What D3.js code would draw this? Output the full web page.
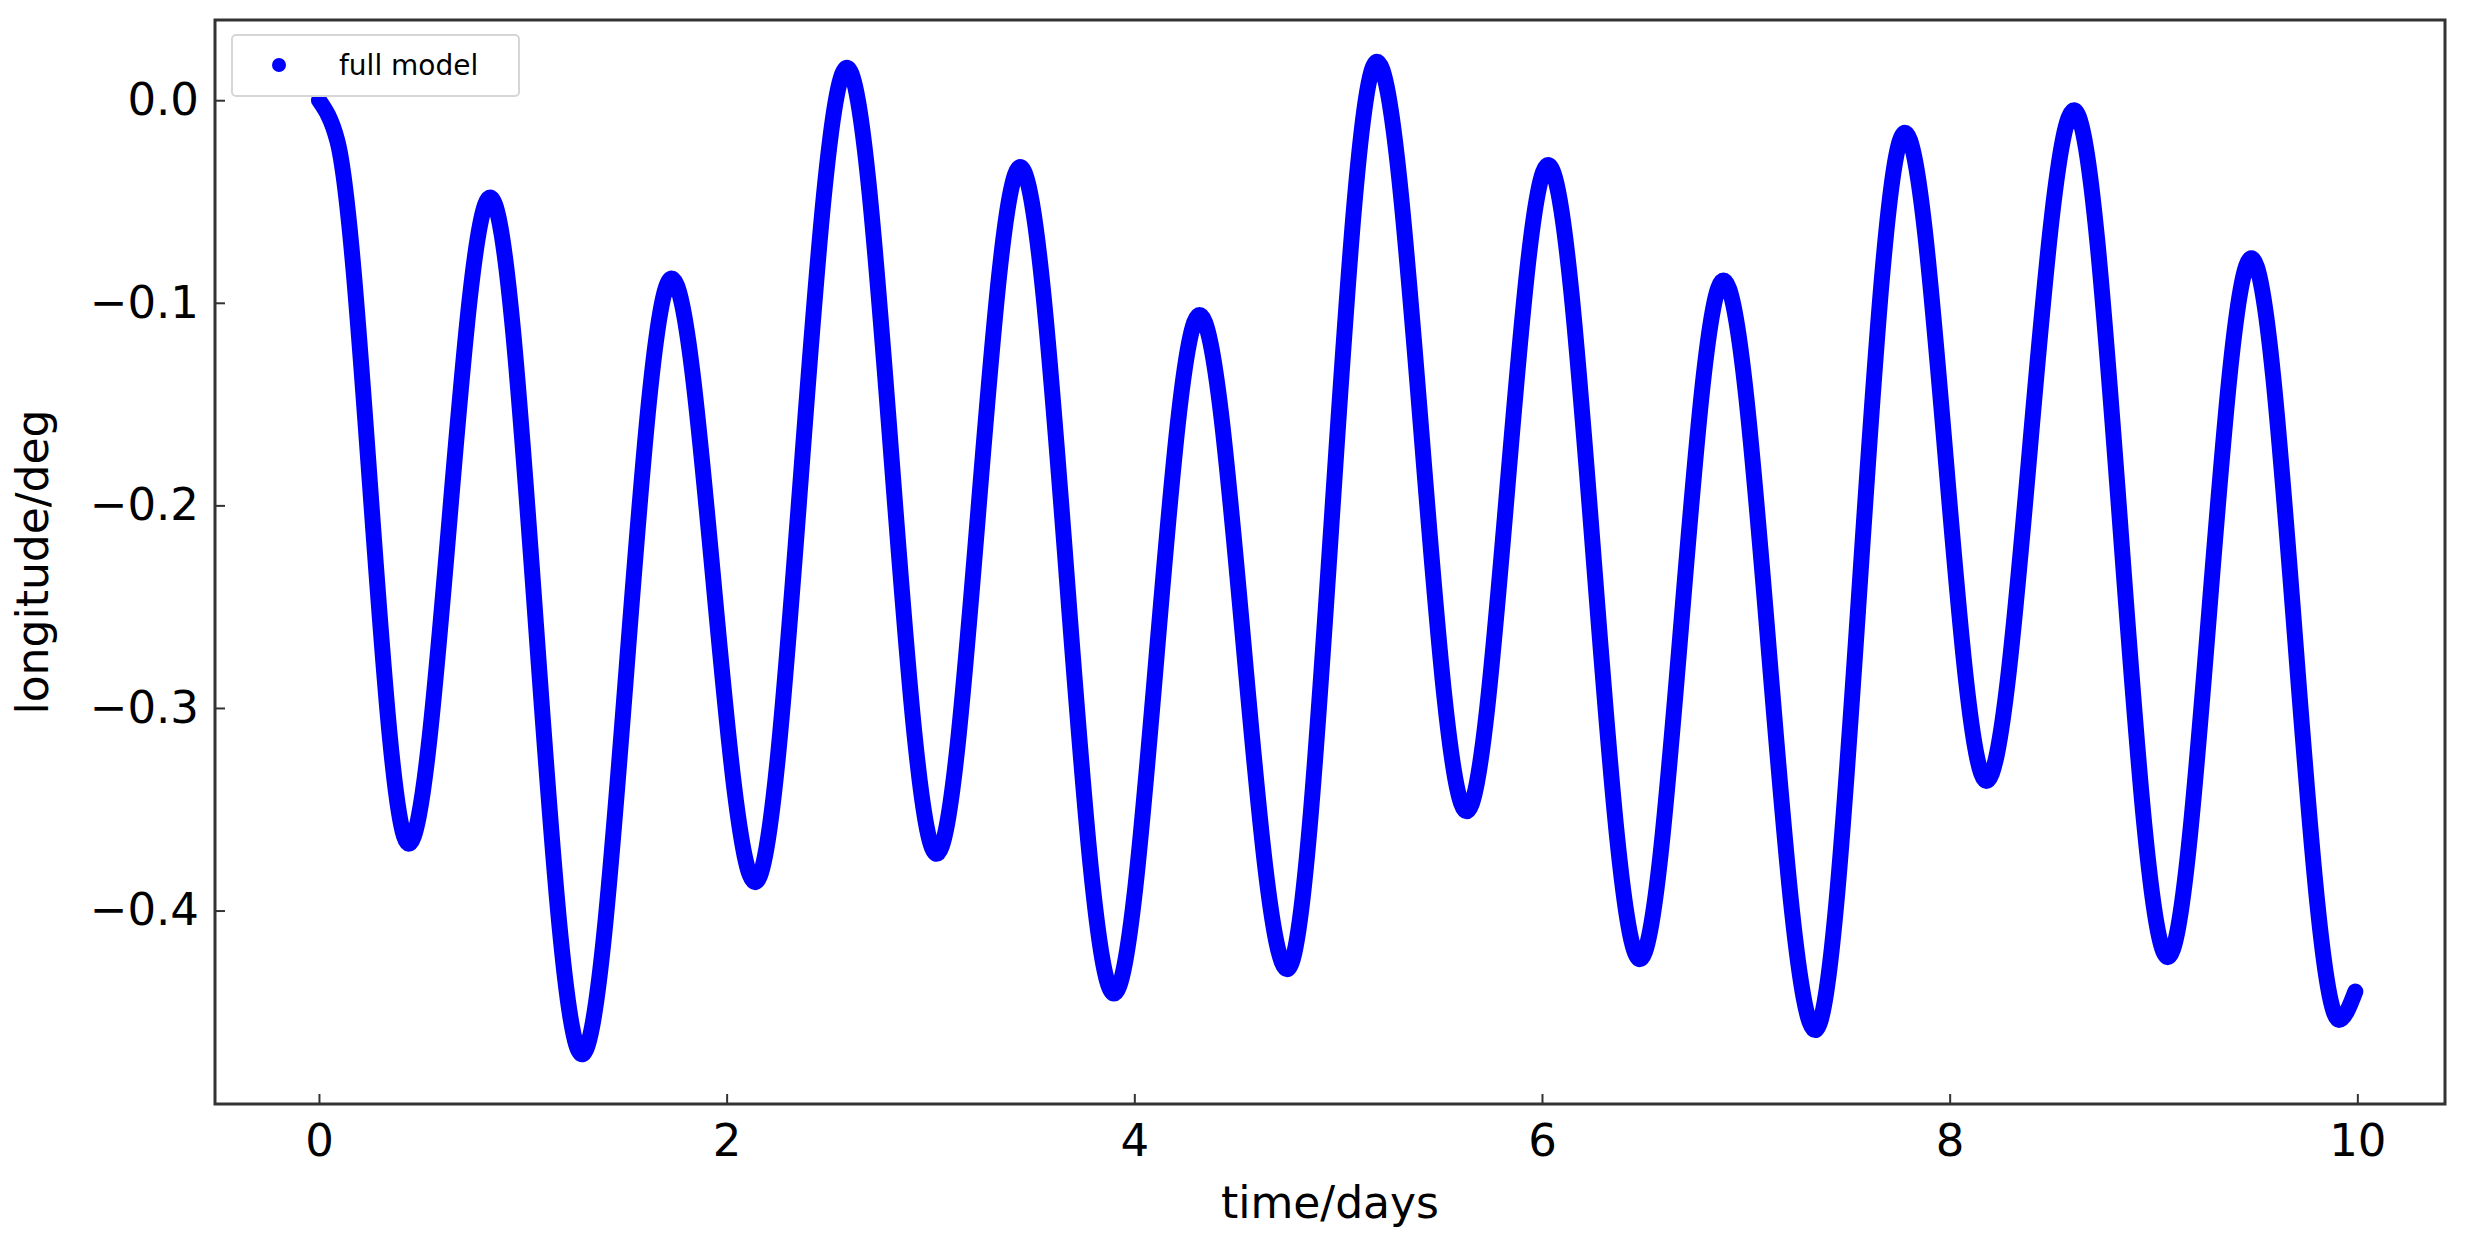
<!DOCTYPE html>
<html>
<head>
<meta charset="utf-8">
<script src="https://cdn.jsdelivr.net/npm/d3@7"></script>
<style>
  body { margin: 0; background: #fff; }
  text { font-family: "DejaVu Sans", sans-serif; }
</style>
</head>
<body>
<svg id="chart" width="2465" height="1250"></svg>
<script>
// turning points of the longitude series
const times = [0, 0.09, 0.44, 0.84, 1.29, 1.73, 2.14, 2.59, 3.03, 3.44, 3.90, 4.32, 4.75, 5.19,
  5.63, 6.03, 6.48, 6.89, 7.34, 7.78, 8.18, 8.61, 9.07, 9.48, 9.91, 9.99];
const longitude = [0, -0.02, -0.367, -0.048, -0.471, -0.088, -0.386, 0.016, -0.372, -0.033, -0.441,
  -0.106, -0.429, 0.019, -0.351, -0.032, -0.424, -0.089, -0.459, -0.016, -0.336, -0.005,
  -0.423, -0.078, -0.454, -0.44];
const xTicks = [0, 2, 4, 6, 8, 10];
const yTicks = [0, -0.1, -0.2, -0.3, -0.4];

const svg = d3.select("#chart");
const margin = { top: 20, right: 20, bottom: 146, left: 215 };
const width = 2465, height = 1250;

const x = d3.scaleLinear().domain([-0.51, 10.43]).range([margin.left, width - margin.right]);
const y = d3.scaleLinear().domain([-0.4955, 0.0396]).range([height - margin.bottom, margin.top]);

const fmt = d => d.toFixed(1).replace("-", "\u2212");

const xAxis = svg.append("g")
  .attr("transform", `translate(0,${height - margin.bottom})`)
  .call(d3.axisBottom(x).tickValues(xTicks).tickSize(-10).tickPadding(20).tickFormat(d => d));
const yAxis = svg.append("g")
  .attr("transform", `translate(${margin.left},0)`)
  .call(d3.axisLeft(y).tickValues(yTicks).tickSize(-10).tickPadding(16).tickFormat(fmt));

[xAxis, yAxis].forEach(g => {
  g.select(".domain").remove();
  g.selectAll("line").attr("stroke", "#333").attr("stroke-width", 2);
  g.selectAll("text").attr("font-size", 45).attr("fill", "#000")
    .attr("font-family", "DejaVu Sans, sans-serif");
});

svg.append("rect")
  .attr("x", margin.left).attr("y", margin.top)
  .attr("width", width - margin.left - margin.right)
  .attr("height", height - margin.top - margin.bottom)
  .attr("fill", "none").attr("stroke", "#333").attr("stroke-width", 3);

const line = d3.line()
  .x((d, i) => x(times[i]))
  .y(d => y(d))
  .curve(d3.curveMonotoneX);

svg.append("path")
  .datum(longitude)
  .attr("d", line)
  .attr("fill", "none")
  .attr("stroke", "#0000ff")
  .attr("stroke-width", 16)
  .attr("stroke-linecap", "round")
  .attr("stroke-linejoin", "round");

svg.append("text")
  .attr("x", (margin.left + width - margin.right) / 2)
  .attr("y", 1218)
  .attr("text-anchor", "middle")
  .attr("font-size", 44)
  .text("time/days");

svg.append("text")
  .attr("transform", `translate(48,${(margin.top + height - margin.bottom) / 2}) rotate(-90)`)
  .attr("text-anchor", "middle")
  .attr("font-size", 44)
  .text("longitude/deg");

// legend
const lg = svg.append("g");
lg.append("rect")
  .attr("x", 232).attr("y", 35).attr("width", 287).attr("height", 61).attr("rx", 4)
  .attr("fill", "#fff").attr("stroke", "#d6d6d6").attr("stroke-width", 2);
lg.append("circle").attr("cx", 279).attr("cy", 65).attr("r", 7).attr("fill", "#0000ff");
lg.append("text").attr("x", 339).attr("y", 75).attr("font-size", 28).text("full model");
</script>
</body>
</html>
